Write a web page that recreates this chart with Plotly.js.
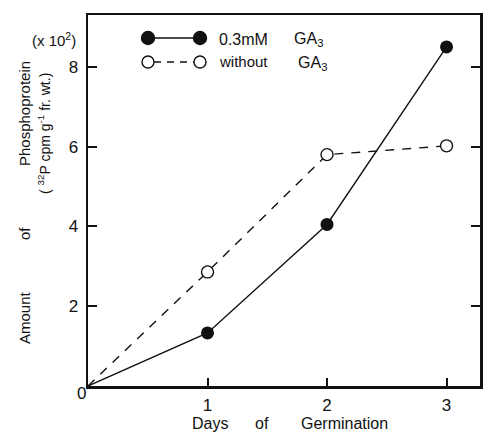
<!DOCTYPE html>
<html>
<head>
<meta charset="utf-8">
<script src="https://cdn.plot.ly/plotly-3.0.1.min.js"></script>
<style>html,body{margin:0;padding:0;background:#fff;}#chart{width:489px;height:432px;}</style>
</head>
<body>
<div id="chart"></div>
<script>
// Data
const days = [0, 1, 2, 3];
const withGA3 = [0, 1.33, 4.05, 8.5];      // 0.3 mM GA3 (x10^2)
const withoutGA3 = [0, 2.86, 5.8, 6.02];   // without GA3 (x10^2)
const xTickVals = [0, 1, 2, 3];
const xTickText = ['', '1', '2', '3'];
const yTickVals = [2, 4, 6, 8];
const yTickText = ['2', '4', '6', '8'];

const FONT = 'Liberation Sans, Arial, sans-serif';
const L = 88, R = 9, T = 15, B = 46, W = 489, H = 432;
const PW = W - L - R, PH = H - T - B;
const px = x => (x - L) / PW;
const py = y => (H - B - y) / PH;

// no marker drawn at the origin (both curves start from 0 without a symbol)
const sizesOpen = days.map(d => d === 0 ? 0 : 12);
const sizesFilled = days.map(d => d === 0 ? 0 : 13);

const traces = [
  {
    x: days, y: withoutGA3, mode: 'lines+markers', showlegend: false,
    line: {color: '#111', width: 1.4, dash: '9px,8px'},
    marker: {symbol: 'circle', size: sizesOpen, opacity: 1, color: '#fff', line: {color: '#111', width: 1.4}}
  },
  {
    x: days, y: withGA3, mode: 'lines+markers', showlegend: false,
    line: {color: '#111', width: 1.4},
    marker: {symbol: 'circle', size: sizesFilled, opacity: 1, color: '#111', line: {color: '#111', width: 0}}
  }
];

function circ(cx, cy, d, filled) {
  return {type: 'circle', xref: 'paper', yref: 'paper',
    xsizemode: 'pixel', ysizemode: 'pixel', xanchor: px(cx), yanchor: py(cy),
    x0: -d/2, x1: d/2, y0: -d/2, y1: d/2,
    fillcolor: filled ? '#111' : '#fff', line: {color: '#111', width: 1.4}};
}
function seg(x0, x1, y, dash) {
  return {type: 'line', xref: 'paper', yref: 'paper', x0: px(x0), x1: px(x1), y0: py(y), y1: py(y),
    line: {color: '#111', width: 1.4, dash: dash || 'solid'}};
}

const shapes = [
  seg(148, 200, 38), circ(148, 38, 13, true), circ(200, 38, 13, true),
  seg(154, 194, 62, '7px,6px'), circ(148, 62, 12, false), circ(200, 62, 12, false)
];

function ann(text, x, y, size, extra) {
  return Object.assign({text: text, xref: 'paper', yref: 'paper', x: px(x), y: py(y),
    showarrow: false, font: {family: FONT, size: size, color: '#111'},
    xanchor: 'center', yanchor: 'middle'}, extra || {});
}

const annotations = [
  ann('0.3mM', 217, 39, 16, {xanchor: 'left'}),
  ann('GA<sub>3</sub>', 292, 40, 16, {xanchor: 'left'}),
  ann('without', 217, 62, 15, {xanchor: 'left'}),
  ann('GA<sub>3</sub>', 296, 64, 16, {xanchor: 'left'}),
  ann('(x 10<sup>2</sup>)', 54, 40, 15),
  ann('0', 81, 393, 17),
  ann('Phosphoprotein', 24, 114, 15, {textangle: -90}),
  ann('of', 24, 234, 15, {textangle: -90}),
  ann('Amount', 24, 318, 15, {textangle: -90}),
  ann('( <sup>32</sup>P cpm g<sup>-1</sup> fr. wt.)', 44, 134, 14, {textangle: -90}),
  ann('Days', 210, 423, 16),
  ann('of', 262, 423, 16),
  ann('Germination', 344, 423, 16)
];

const layout = {
  width: W, height: H,
  margin: {l: L, r: R, t: T, b: B, pad: 0},
  paper_bgcolor: '#fff', plot_bgcolor: '#fff',
  font: {family: FONT, size: 17, color: '#111'},
  xaxis: {
    range: [0, 3.28], tickvals: xTickVals, ticktext: xTickText,
    ticks: 'inside', ticklen: 8, tickwidth: 2, tickcolor: '#111',
    showline: true, linewidth: 2.5, linecolor: '#111', mirror: true,
    showgrid: false, zeroline: false, ticklabelstandoff: 2,
    tickfont: {family: FONT, size: 17, color: '#111'}
  },
  yaxis: {
    range: [0, 9.3], tickvals: yTickVals, ticktext: yTickText,
    ticks: 'inside', ticklen: 9, tickwidth: 2, tickcolor: '#111',
    showline: true, linewidth: 2.5, linecolor: '#111', mirror: 'ticks',
    showgrid: false, zeroline: false, ticklabelstandoff: 4,
    tickfont: {family: FONT, size: 17, color: '#111'}
  },
  shapes: shapes,
  annotations: annotations,
  showlegend: false
};

Plotly.newPlot('chart', traces, layout, {displayModeBar: false, staticPlot: true});
</script>
</body>
</html>
